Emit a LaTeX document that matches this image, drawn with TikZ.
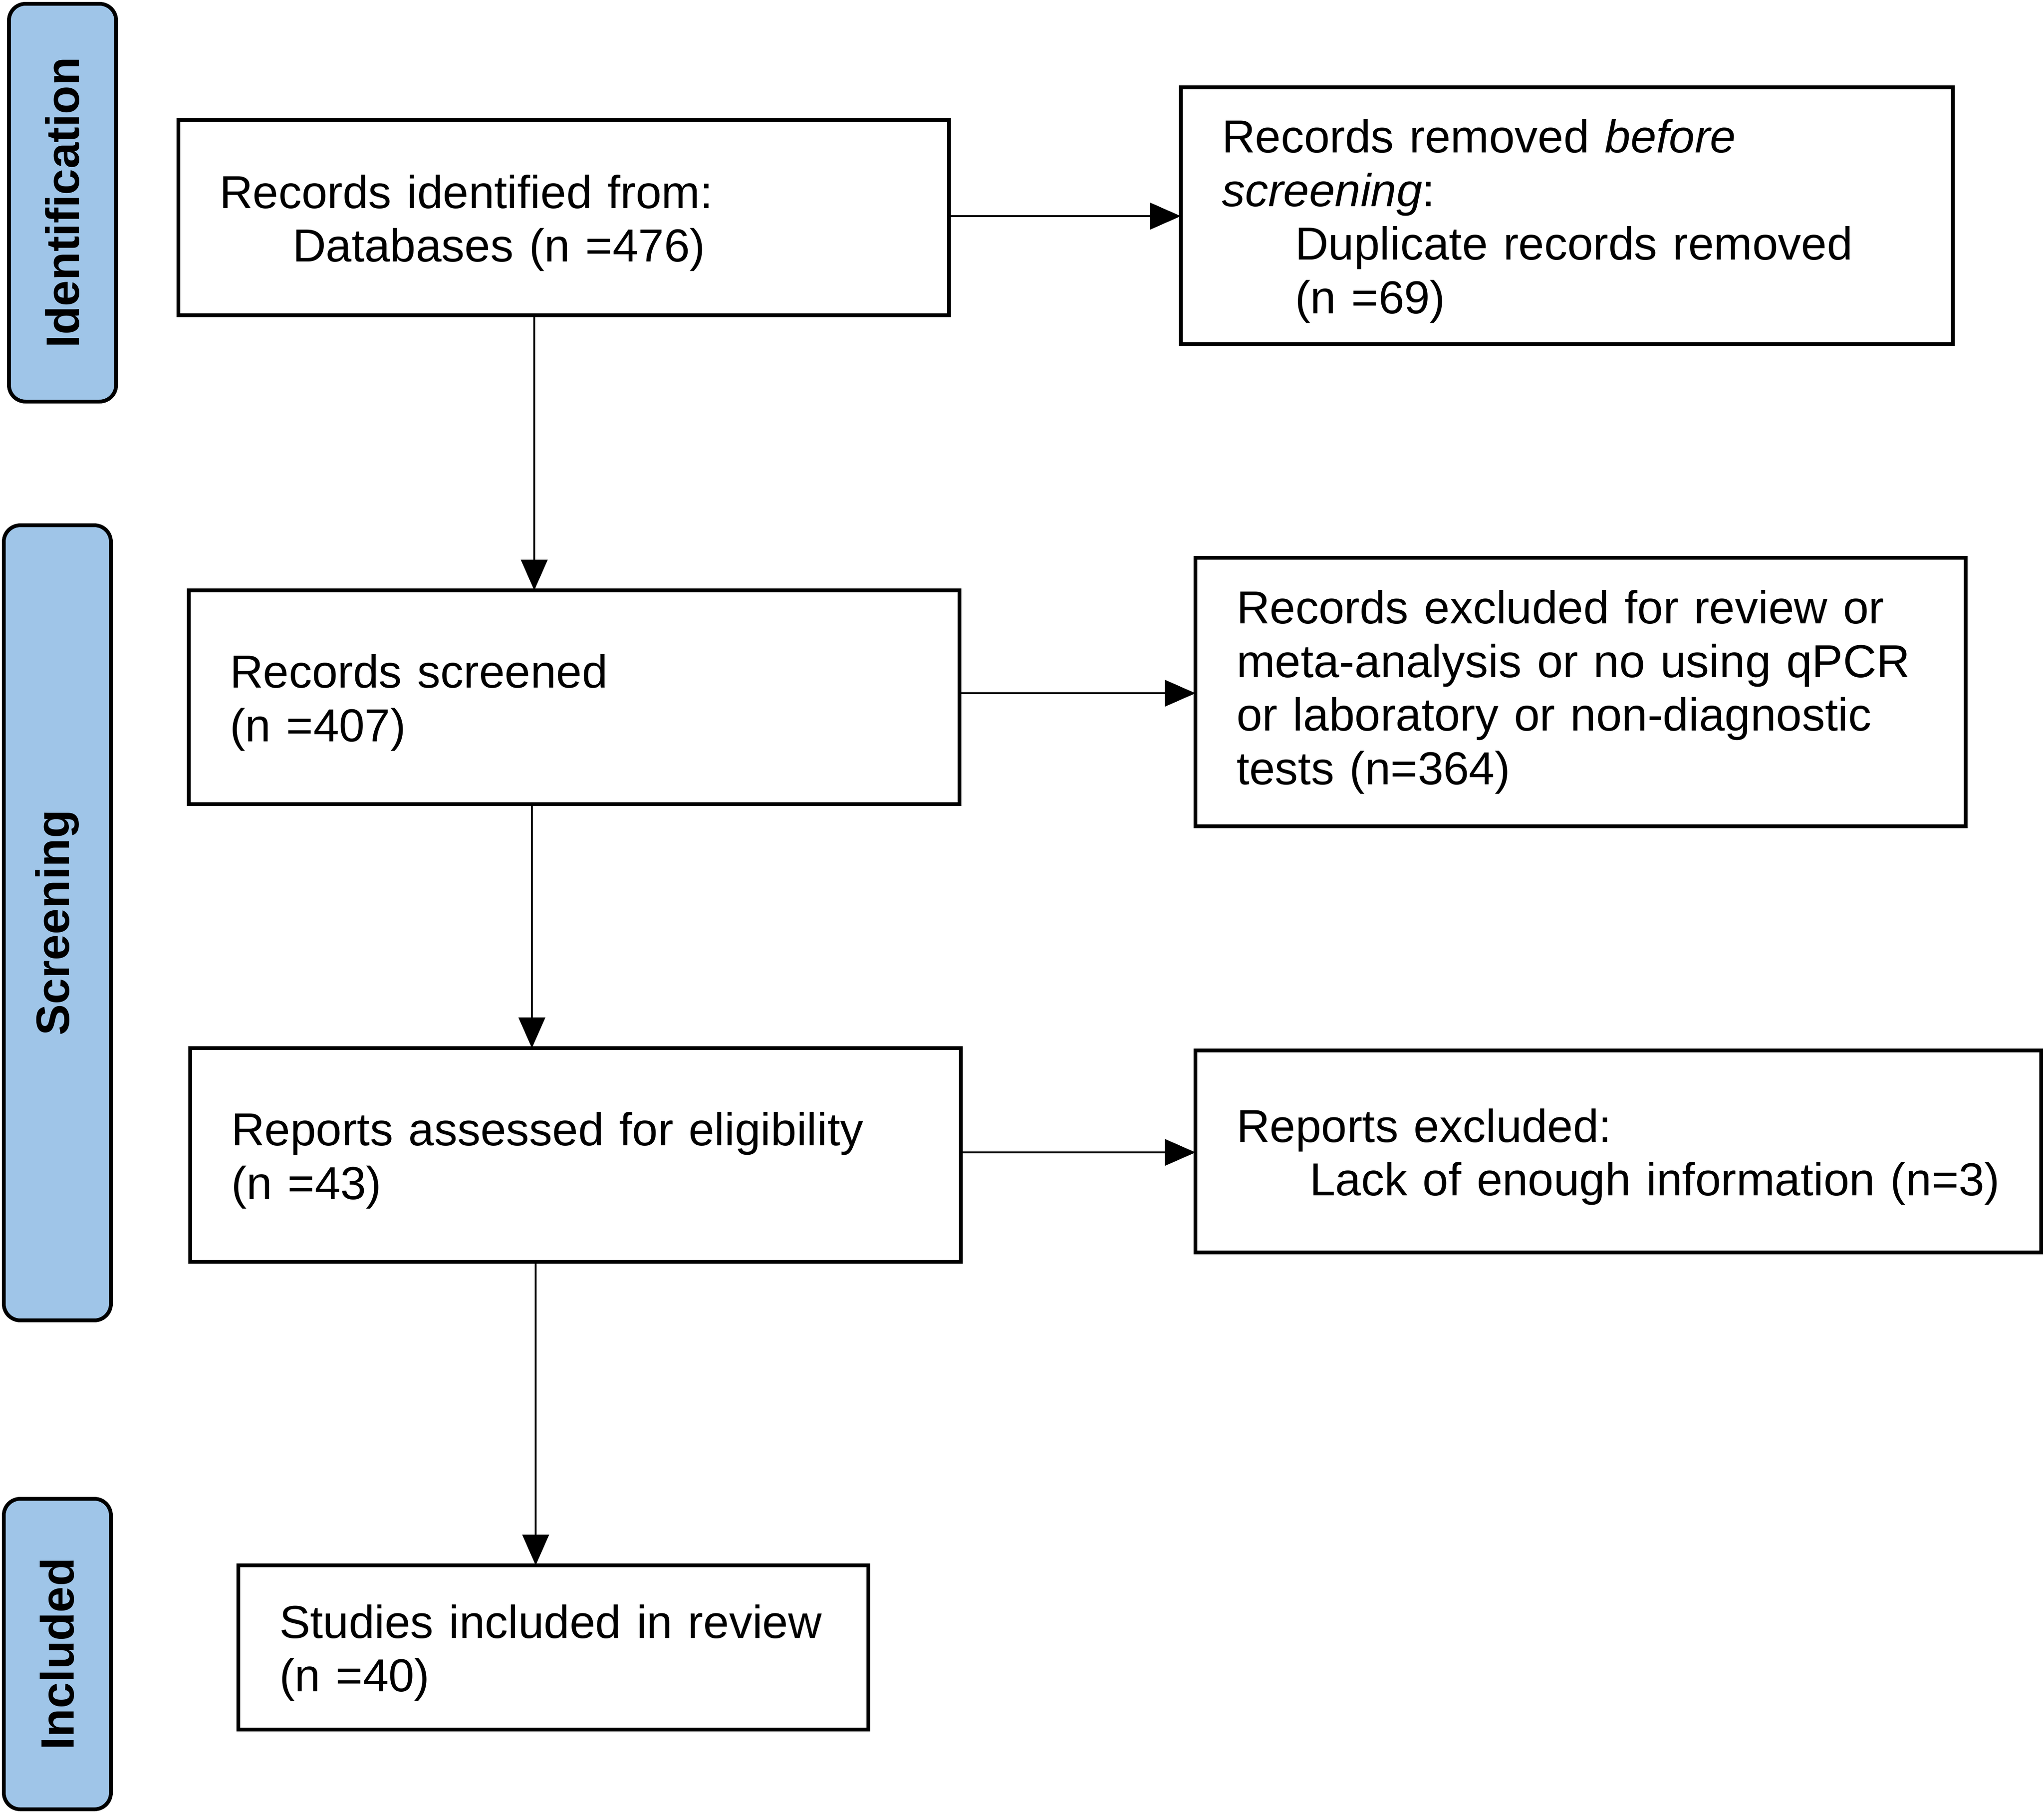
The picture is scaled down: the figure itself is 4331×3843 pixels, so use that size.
\documentclass[tikz,border=0pt]{standalone}
\usepackage{fontspec}
\usepackage{graphicx}
\setmainfont{Liberation Sans}
\usetikzlibrary{arrows.meta}
\definecolor{sideblue}{HTML}{9FC5E8}
\newcommand{\topst}{\rule{0pt}{9.4pt}}
\begin{document}
\begin{tikzpicture}[x=0.1pt,y=-0.1pt,
  box/.style={draw, line width=0.85pt, align=left, inner xsep=8.7pt, inner ysep=0pt, outer sep=0pt,
    font=\fontsize{9.8pt}{11.35pt}\selectfont},
  side/.style={draw, line width=0.8pt, fill=sideblue, rounded corners=3.5pt, minimum width=22.7pt,
    inner sep=0pt, outer sep=0pt, font=\fontsize{9.9pt}{11pt}\selectfont\bfseries},
  arr/.style={line width=0.45pt, -{Triangle[length=6.5pt,width=5.6pt]}}]
\useasboundingbox (0,0) rectangle (4331,3843);

% phase labels
\node[side, minimum height=84.3pt] (s1) at (132.5,429.5) {\rotatebox{90}{Identification}};
\node[side, minimum height=168.5pt] (s2) at (121.5,1955.5) {\rotatebox{90}{Screening}};
\node[side, minimum height=65.8pt] (s3) at (121.5,3505) {\rotatebox{90}{Included}};

% boxes
\node[box, text width=145.9pt, minimum height=41.4pt] (b1) at (1194.5,461)
  {\topst Records identified from:\\\hspace*{15.5pt}Databases (n =476)};
\node[box, text width=146.2pt, minimum height=54.4pt] (b2) at (3320,457)
  {\topst Records removed \textit{before}\\\textit{screening}:\\\hspace*{15.5pt}Duplicate records removed\\\hspace*{15.5pt}(n =69)};
\node[box, text width=145.9pt, minimum height=45.3pt] (b3) at (1216.5,1477.5)
  {\topst Records screened\\(n =407)};
\node[box, text width=145.8pt, minimum height=56.9pt] (b4) at (3349,1466.5)
  {Records excluded for review or\\meta-analysis or no using qPCR\\or laboratory or non-diagnostic\\tests (n=364)};
\node[box, text width=145.9pt, minimum height=45.3pt] (b5) at (1219.5,2447.5)
  {\topst Reports assessed for eligibility\\(n =43)};
\node[box, text width=161.8pt, minimum height=42.8pt] (b6) at (3429,2440)
  {\topst Reports excluded:\\\mbox{\hspace*{15.5pt}Lack of enough information (n=3)}};
\node[box, text width=116.1pt, minimum height=34.8pt] (b7) at (1172.5,3491)
  {\topst\mbox{Studies included in review}\\(n =40)};

% connector guides
\coordinate (v1) at (1132,0);
\coordinate (v2) at (1127,0);
\coordinate (v3) at (1135,0);
\coordinate (h1) at (0,458);
\coordinate (h2) at (0,1469);
\coordinate (h3) at (0,2442);

\draw[arr] (b1.south -| v1) -- (b3.north -| v1);
\draw[arr] (b3.south -| v2) -- (b5.north -| v2);
\draw[arr] (b5.south -| v3) -- (b7.north -| v3);
\draw[arr] (b1.east |- h1) -- (b2.west |- h1);
\draw[arr] (b3.east |- h2) -- (b4.west |- h2);
\draw[arr] (b5.east |- h3) -- (b6.west |- h3);
\end{tikzpicture}
\end{document}
